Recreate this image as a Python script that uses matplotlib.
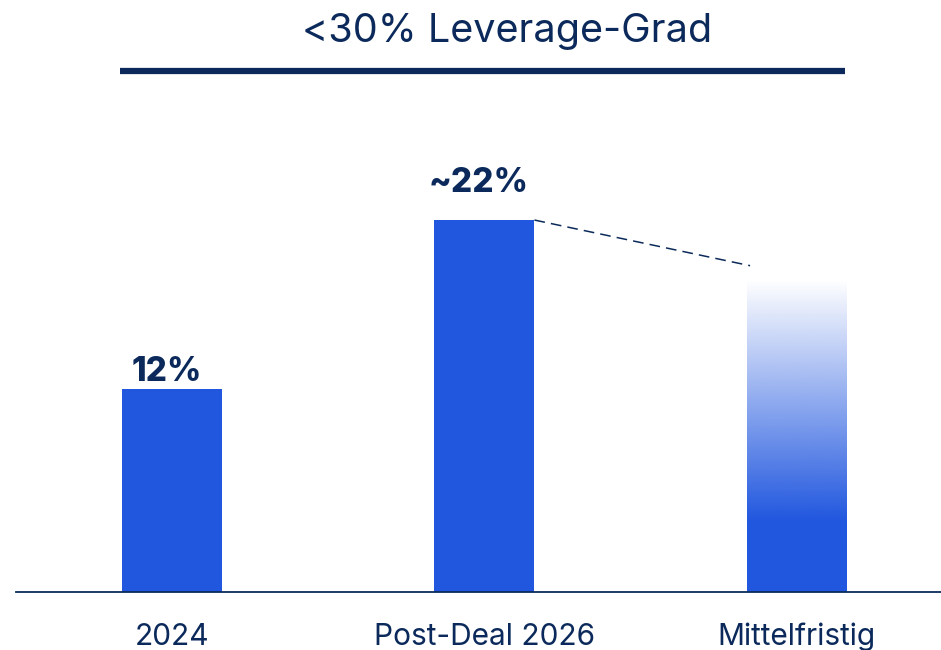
import matplotlib.pyplot as plt
import numpy as np
from matplotlib.lines import Line2D

categories = ["2024", "Post-Deal 2026", "Mittelfristig"]
values = [12, 22, 18.5]
value_labels = ["12%", "~22%", ""]
trend_end = 19.3
title = "<30% Leverage-Grad"

navy = "#0b2a5b"
blue = "#2157df"

plt.rcParams['font.family'] = ['Inter', 'DejaVu Sans']

fig = plt.figure(figsize=(9.41, 6.5), dpi=100)
ax = fig.add_axes([16 / 941, 58 / 650, 925 / 941, 492 / 650])

x = np.arange(len(categories))
width = 0.32

# solid bars
ax.bar(x[:2], values[:2], width=width, color=blue, zorder=2)

# gradient bar: solid at the bottom, fading to white at the top
n = 256
f = np.linspace(0, 1, n)
alpha = np.clip((1 - f) / 0.77, 0, 1)
rgba = np.zeros((n, 1, 4))
rgba[..., :3] = plt.matplotlib.colors.to_rgb(blue)
rgba[:, 0, 3] = alpha
ax.imshow(rgba, extent=[x[2] - width / 2, x[2] + width / 2, 0, values[2]],
          origin='lower', aspect='auto', interpolation='bilinear', zorder=2)

# dashed trend line
ax.plot([x[1] + width / 2, x[2] - width / 2 + 0.01], [values[1], trend_end],
        color=navy, lw=1.1, dashes=(7, 4), zorder=3)

# value labels
offsets = [1, 15, 0]
for xi, v, lab, off in zip(x, values, value_labels, offsets):
    if lab:
        ax.annotate(lab, (xi, v), xytext=(-4, off), textcoords='offset points',
                    ha='center', va='bottom', fontsize=24, fontweight='heavy',
                    color=navy)

ax.set_xlim(-0.499, 2.461)
ax.set_ylim(0, 29.1)
ax.set_xticks(x)
ax.set_xticklabels(categories, fontsize=21.5, color=navy)
ax.tick_params(axis='x', length=0, pad=22)
ax.set_yticks([])
for s in ['top', 'right', 'left']:
    ax.spines[s].set_visible(False)
ax.spines['bottom'].set_color(navy)
ax.spines['bottom'].set_linewidth(1.3)
ax.patch.set_alpha(0)

fig.text(507 / 941, 1 - 31 / 650, title, ha='center', va='center',
         fontsize=28.5, color=navy)
fig.add_artist(Line2D([120 / 941, 845 / 941], [1 - 71 / 650, 1 - 71 / 650],
                      color=navy, lw=4.5, solid_capstyle='butt'))

fig.savefig("out.png", dpi=100)
